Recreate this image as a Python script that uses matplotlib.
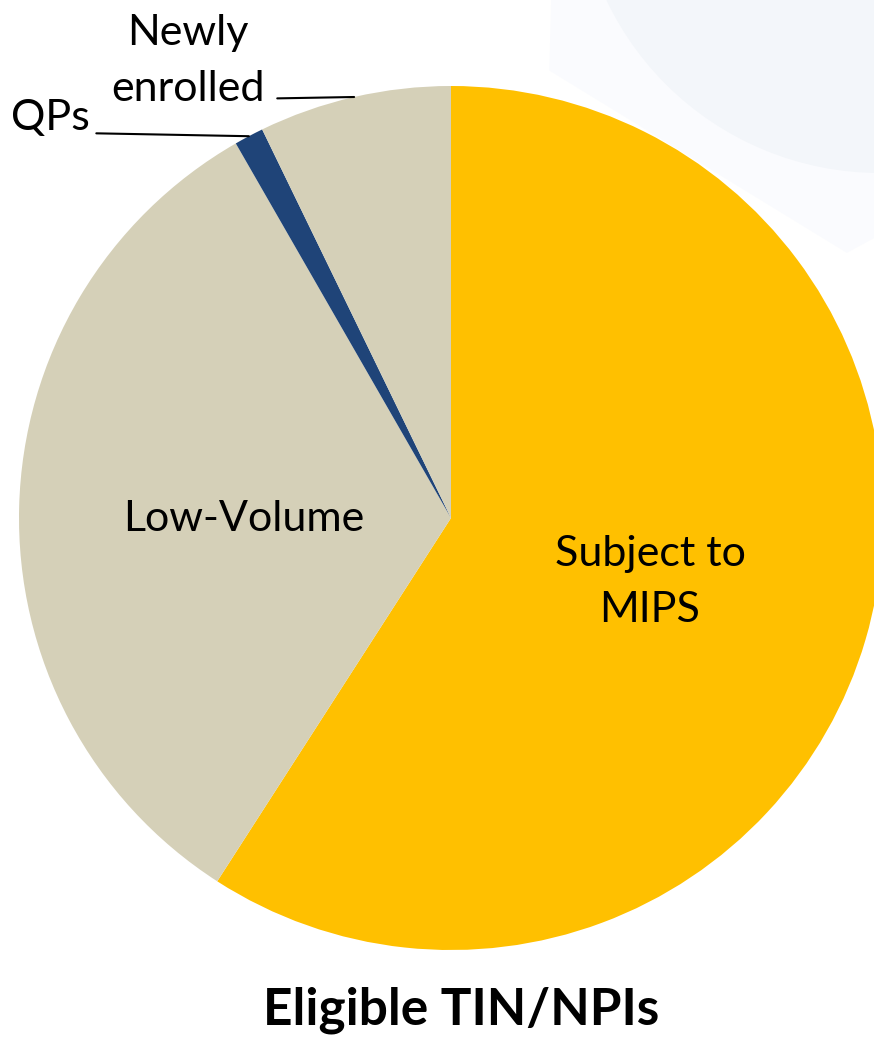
import numpy as np
import matplotlib.pyplot as plt
from matplotlib.patches import Circle, RegularPolygon

# Eligible TIN/NPIs breakdown (percent)
categories = ["Subject to\nMIPS", "Low-Volume", "QPs", "Newly\nenrolled"]
shares = [59.1, 32.6, 1.1, 7.2]
colors = ["#FFC000", "#D5D0B8", "#1F4478", "#D5D0B8"]
title = "Eligible TIN/NPIs"

W, H = 874, 1039
fig = plt.figure(figsize=(W / 100, H / 100), dpi=100)
ax = fig.add_axes([0, 0, 1, 1])

# faint background decoration (top right)
ax.add_patch(RegularPolygon((856, H + 96), numVertices=6, radius=349,
                            orientation=np.deg2rad(-1.5), color="#FAFBFE",
                            lw=0, zorder=0))
ax.add_patch(Circle((880, H + 130), 303, color="#F3F6FA", lw=0, zorder=0))

cx, cy, R = 451, H - 518, 432
wedges, _ = ax.pie(shares, colors=colors, startangle=90, counterclock=False,
                   center=(cx, cy), radius=R, frame=True,
                   wedgeprops=dict(linewidth=0))

font = "Lato"
fs = 31
ls = 1.58

def mid(w):
    return np.deg2rad((w.theta1 + w.theta2) / 2)

# inside labels for the two big slices
for i in (0, 1):
    a = mid(wedges[i])
    ax.text(cx + 0.48 * R * np.cos(a), cy + 0.48 * R * np.sin(a) - 6,
            categories[i], ha="center", va="center", fontsize=fs,
            family=font, linespacing=ls, zorder=5)

# outside labels with leader lines
a = mid(wedges[2])
ax.annotate(categories[2], xy=(cx + R * np.cos(a), cy + R * np.sin(a)),
            xytext=(50, H - 118), ha="center", va="center",
            fontsize=fs, family=font,
            arrowprops=dict(arrowstyle="-", lw=1.5, color="black",
                            relpos=(1.0, 0.1), shrinkA=3, shrinkB=0))
a = mid(wedges[3])
ax.annotate(categories[3], xy=(cx + R * np.cos(a), cy + R * np.sin(a)),
            xytext=(188, H - 61), ha="center", va="center",
            fontsize=fs, family=font, linespacing=ls,
            arrowprops=dict(arrowstyle="-", lw=1.5, color="black",
                            relpos=(1.0, 0.1), shrinkA=7, shrinkB=0))

ax.text(461, H - 1010, title, ha="center", va="center", fontsize=37,
        fontweight="bold", family=font)

ax.set_xlim(0, W)
ax.set_ylim(0, H)
ax.set_aspect("auto")
ax.axis("off")

fig.savefig("out.png", dpi=100, facecolor="white")
